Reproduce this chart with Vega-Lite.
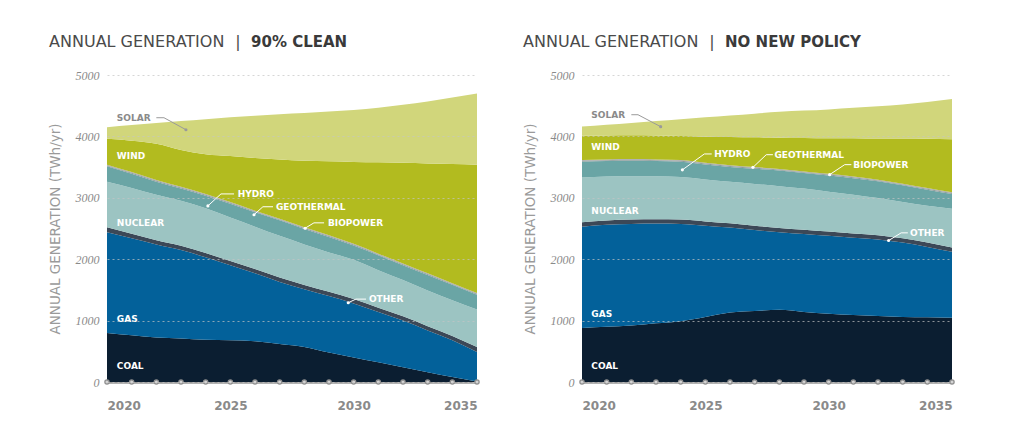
{
  "$schema": "https://vega.github.io/schema/vega-lite/v6.json",
  "background": "white",
  "padding": {"left": 48, "top": 34, "right": 10, "bottom": 5},
  "bounds": "flush",
  "spacing": 105,
  "config": {
    "font": "DejaVu Sans",
    "view": {"stroke": null}
  },
  "datasets": {
    "gen": [
      {"scenario":"clean","year":2020,"source":"Coal","twh":800},{"scenario":"clean","year":2020,"source":"Gas","twh":1640},{"scenario":"clean","year":2020,"source":"Other","twh":80},{"scenario":"clean","year":2020,"source":"Nuclear","twh":740},{"scenario":"clean","year":2020,"source":"Hydro","twh":253},{"scenario":"clean","year":2020,"source":"Geothermal","twh":15},{"scenario":"clean","year":2020,"source":"Biopower","twh":12},{"scenario":"clean","year":2020,"source":"Wind","twh":420},{"scenario":"clean","year":2020,"source":"Solar","twh":190},
      {"scenario":"clean","year":2021,"source":"Coal","twh":760},{"scenario":"clean","year":2021,"source":"Gas","twh":1580},{"scenario":"clean","year":2021,"source":"Other","twh":75},{"scenario":"clean","year":2021,"source":"Nuclear","twh":745},{"scenario":"clean","year":2021,"source":"Hydro","twh":233},{"scenario":"clean","year":2021,"source":"Geothermal","twh":15},{"scenario":"clean","year":2021,"source":"Biopower","twh":12},{"scenario":"clean","year":2021,"source":"Wind","twh":510},{"scenario":"clean","year":2021,"source":"Solar","twh":255},
      {"scenario":"clean","year":2022,"source":"Coal","twh":725},{"scenario":"clean","year":2022,"source":"Gas","twh":1515},{"scenario":"clean","year":2022,"source":"Other","twh":70},{"scenario":"clean","year":2022,"source":"Nuclear","twh":740},{"scenario":"clean","year":2022,"source":"Hydro","twh":213},{"scenario":"clean","year":2022,"source":"Geothermal","twh":15},{"scenario":"clean","year":2022,"source":"Biopower","twh":12},{"scenario":"clean","year":2022,"source":"Wind","twh":590},{"scenario":"clean","year":2022,"source":"Solar","twh":340},
      {"scenario":"clean","year":2023,"source":"Coal","twh":710},{"scenario":"clean","year":2023,"source":"Gas","twh":1440},{"scenario":"clean","year":2023,"source":"Other","twh":70},{"scenario":"clean","year":2023,"source":"Nuclear","twh":730},{"scenario":"clean","year":2023,"source":"Hydro","twh":203},{"scenario":"clean","year":2023,"source":"Geothermal","twh":15},{"scenario":"clean","year":2023,"source":"Biopower","twh":12},{"scenario":"clean","year":2023,"source":"Wind","twh":600},{"scenario":"clean","year":2023,"source":"Solar","twh":470},
      {"scenario":"clean","year":2024,"source":"Coal","twh":690},{"scenario":"clean","year":2024,"source":"Gas","twh":1340},{"scenario":"clean","year":2024,"source":"Other","twh":70},{"scenario":"clean","year":2024,"source":"Nuclear","twh":730},{"scenario":"clean","year":2024,"source":"Hydro","twh":203},{"scenario":"clean","year":2024,"source":"Geothermal","twh":15},{"scenario":"clean","year":2024,"source":"Biopower","twh":12},{"scenario":"clean","year":2024,"source":"Wind","twh":650},{"scenario":"clean","year":2024,"source":"Solar","twh":570},
      {"scenario":"clean","year":2025,"source":"Coal","twh":680},{"scenario":"clean","year":2025,"source":"Gas","twh":1220},{"scenario":"clean","year":2025,"source":"Other","twh":70},{"scenario":"clean","year":2025,"source":"Nuclear","twh":710},{"scenario":"clean","year":2025,"source":"Hydro","twh":223},{"scenario":"clean","year":2025,"source":"Geothermal","twh":15},{"scenario":"clean","year":2025,"source":"Biopower","twh":12},{"scenario":"clean","year":2025,"source":"Wind","twh":750},{"scenario":"clean","year":2025,"source":"Solar","twh":630},
      {"scenario":"clean","year":2026,"source":"Coal","twh":665},{"scenario":"clean","year":2026,"source":"Gas","twh":1105},{"scenario":"clean","year":2026,"source":"Other","twh":70},{"scenario":"clean","year":2026,"source":"Nuclear","twh":690},{"scenario":"clean","year":2026,"source":"Hydro","twh":233},{"scenario":"clean","year":2026,"source":"Geothermal","twh":15},{"scenario":"clean","year":2026,"source":"Biopower","twh":12},{"scenario":"clean","year":2026,"source":"Wind","twh":860},{"scenario":"clean","year":2026,"source":"Solar","twh":685},
      {"scenario":"clean","year":2027,"source":"Coal","twh":620},{"scenario":"clean","year":2027,"source":"Gas","twh":1010},{"scenario":"clean","year":2027,"source":"Other","twh":70},{"scenario":"clean","year":2027,"source":"Nuclear","twh":680},{"scenario":"clean","year":2027,"source":"Hydro","twh":253},{"scenario":"clean","year":2027,"source":"Geothermal","twh":15},{"scenario":"clean","year":2027,"source":"Biopower","twh":12},{"scenario":"clean","year":2027,"source":"Wind","twh":965},{"scenario":"clean","year":2027,"source":"Solar","twh":735},
      {"scenario":"clean","year":2028,"source":"Coal","twh":570},{"scenario":"clean","year":2028,"source":"Gas","twh":940},{"scenario":"clean","year":2028,"source":"Other","twh":70},{"scenario":"clean","year":2028,"source":"Nuclear","twh":660},{"scenario":"clean","year":2028,"source":"Hydro","twh":253},{"scenario":"clean","year":2028,"source":"Geothermal","twh":15},{"scenario":"clean","year":2028,"source":"Biopower","twh":12},{"scenario":"clean","year":2028,"source":"Wind","twh":1085},{"scenario":"clean","year":2028,"source":"Solar","twh":775},
      {"scenario":"clean","year":2029,"source":"Coal","twh":480},{"scenario":"clean","year":2029,"source":"Gas","twh":920},{"scenario":"clean","year":2029,"source":"Other","twh":70},{"scenario":"clean","year":2029,"source":"Nuclear","twh":640},{"scenario":"clean","year":2029,"source":"Hydro","twh":253},{"scenario":"clean","year":2029,"source":"Geothermal","twh":15},{"scenario":"clean","year":2029,"source":"Biopower","twh":12},{"scenario":"clean","year":2029,"source":"Wind","twh":1205},{"scenario":"clean","year":2029,"source":"Solar","twh":810},
      {"scenario":"clean","year":2030,"source":"Coal","twh":400},{"scenario":"clean","year":2030,"source":"Gas","twh":880},{"scenario":"clean","year":2030,"source":"Other","twh":70},{"scenario":"clean","year":2030,"source":"Nuclear","twh":640},{"scenario":"clean","year":2030,"source":"Hydro","twh":233},{"scenario":"clean","year":2030,"source":"Geothermal","twh":15},{"scenario":"clean","year":2030,"source":"Biopower","twh":12},{"scenario":"clean","year":2030,"source":"Wind","twh":1335},{"scenario":"clean","year":2030,"source":"Solar","twh":845},
      {"scenario":"clean","year":2031,"source":"Coal","twh":320},{"scenario":"clean","year":2031,"source":"Gas","twh":820},{"scenario":"clean","year":2031,"source":"Other","twh":70},{"scenario":"clean","year":2031,"source":"Nuclear","twh":610},{"scenario":"clean","year":2031,"source":"Hydro","twh":243},{"scenario":"clean","year":2031,"source":"Geothermal","twh":15},{"scenario":"clean","year":2031,"source":"Biopower","twh":12},{"scenario":"clean","year":2031,"source":"Wind","twh":1487},{"scenario":"clean","year":2031,"source":"Solar","twh":888},
      {"scenario":"clean","year":2032,"source":"Coal","twh":240},{"scenario":"clean","year":2032,"source":"Gas","twh":760},{"scenario":"clean","year":2032,"source":"Other","twh":70},{"scenario":"clean","year":2032,"source":"Nuclear","twh":590},{"scenario":"clean","year":2032,"source":"Hydro","twh":243},{"scenario":"clean","year":2032,"source":"Geothermal","twh":15},{"scenario":"clean","year":2032,"source":"Biopower","twh":12},{"scenario":"clean","year":2032,"source":"Wind","twh":1640},{"scenario":"clean","year":2032,"source":"Solar","twh":945},
      {"scenario":"clean","year":2033,"source":"Coal","twh":160},{"scenario":"clean","year":2033,"source":"Gas","twh":680},{"scenario":"clean","year":2033,"source":"Other","twh":70},{"scenario":"clean","year":2033,"source":"Nuclear","twh":580},{"scenario":"clean","year":2033,"source":"Hydro","twh":253},{"scenario":"clean","year":2033,"source":"Geothermal","twh":15},{"scenario":"clean","year":2033,"source":"Biopower","twh":12},{"scenario":"clean","year":2033,"source":"Wind","twh":1790},{"scenario":"clean","year":2033,"source":"Solar","twh":1010},
      {"scenario":"clean","year":2034,"source":"Coal","twh":80},{"scenario":"clean","year":2034,"source":"Gas","twh":600},{"scenario":"clean","year":2034,"source":"Other","twh":70},{"scenario":"clean","year":2034,"source":"Nuclear","twh":580},{"scenario":"clean","year":2034,"source":"Hydro","twh":253},{"scenario":"clean","year":2034,"source":"Geothermal","twh":15},{"scenario":"clean","year":2034,"source":"Biopower","twh":12},{"scenario":"clean","year":2034,"source":"Wind","twh":1940},{"scenario":"clean","year":2034,"source":"Solar","twh":1085},
      {"scenario":"clean","year":2035,"source":"Coal","twh":10},{"scenario":"clean","year":2035,"source":"Gas","twh":480},{"scenario":"clean","year":2035,"source":"Other","twh":80},{"scenario":"clean","year":2035,"source":"Nuclear","twh":610},{"scenario":"clean","year":2035,"source":"Hydro","twh":243},{"scenario":"clean","year":2035,"source":"Geothermal","twh":15},{"scenario":"clean","year":2035,"source":"Biopower","twh":12},{"scenario":"clean","year":2035,"source":"Wind","twh":2090},{"scenario":"clean","year":2035,"source":"Solar","twh":1160},

      {"scenario":"nonew","year":2020,"source":"Coal","twh":880},{"scenario":"nonew","year":2020,"source":"Gas","twh":1650},{"scenario":"nonew","year":2020,"source":"Other","twh":70},{"scenario":"nonew","year":2020,"source":"Nuclear","twh":730},{"scenario":"nonew","year":2020,"source":"Hydro","twh":258},{"scenario":"nonew","year":2020,"source":"Geothermal","twh":15},{"scenario":"nonew","year":2020,"source":"Biopower","twh":12},{"scenario":"nonew","year":2020,"source":"Wind","twh":395},{"scenario":"nonew","year":2020,"source":"Solar","twh":150},
      {"scenario":"nonew","year":2021,"source":"Coal","twh":900},{"scenario":"nonew","year":2021,"source":"Gas","twh":1660},{"scenario":"nonew","year":2021,"source":"Other","twh":70},{"scenario":"nonew","year":2021,"source":"Nuclear","twh":715},{"scenario":"nonew","year":2021,"source":"Hydro","twh":253},{"scenario":"nonew","year":2021,"source":"Geothermal","twh":15},{"scenario":"nonew","year":2021,"source":"Biopower","twh":12},{"scenario":"nonew","year":2021,"source":"Wind","twh":390},{"scenario":"nonew","year":2021,"source":"Solar","twh":175},
      {"scenario":"nonew","year":2022,"source":"Coal","twh":920},{"scenario":"nonew","year":2022,"source":"Gas","twh":1655},{"scenario":"nonew","year":2022,"source":"Other","twh":70},{"scenario":"nonew","year":2022,"source":"Nuclear","twh":705},{"scenario":"nonew","year":2022,"source":"Hydro","twh":253},{"scenario":"nonew","year":2022,"source":"Geothermal","twh":15},{"scenario":"nonew","year":2022,"source":"Biopower","twh":12},{"scenario":"nonew","year":2022,"source":"Wind","twh":390},{"scenario":"nonew","year":2022,"source":"Solar","twh":200},
      {"scenario":"nonew","year":2023,"source":"Coal","twh":955},{"scenario":"nonew","year":2023,"source":"Gas","twh":1625},{"scenario":"nonew","year":2023,"source":"Other","twh":70},{"scenario":"nonew","year":2023,"source":"Nuclear","twh":700},{"scenario":"nonew","year":2023,"source":"Hydro","twh":248},{"scenario":"nonew","year":2023,"source":"Geothermal","twh":15},{"scenario":"nonew","year":2023,"source":"Biopower","twh":12},{"scenario":"nonew","year":2023,"source":"Wind","twh":390},{"scenario":"nonew","year":2023,"source":"Solar","twh":235},
      {"scenario":"nonew","year":2024,"source":"Coal","twh":990},{"scenario":"nonew","year":2024,"source":"Gas","twh":1585},{"scenario":"nonew","year":2024,"source":"Other","twh":70},{"scenario":"nonew","year":2024,"source":"Nuclear","twh":695},{"scenario":"nonew","year":2024,"source":"Hydro","twh":248},{"scenario":"nonew","year":2024,"source":"Geothermal","twh":15},{"scenario":"nonew","year":2024,"source":"Biopower","twh":12},{"scenario":"nonew","year":2024,"source":"Wind","twh":390},{"scenario":"nonew","year":2024,"source":"Solar","twh":275},
      {"scenario":"nonew","year":2025,"source":"Coal","twh":1060},{"scenario":"nonew","year":2025,"source":"Gas","twh":1485},{"scenario":"nonew","year":2025,"source":"Other","twh":70},{"scenario":"nonew","year":2025,"source":"Nuclear","twh":685},{"scenario":"nonew","year":2025,"source":"Hydro","twh":243},{"scenario":"nonew","year":2025,"source":"Geothermal","twh":15},{"scenario":"nonew","year":2025,"source":"Biopower","twh":12},{"scenario":"nonew","year":2025,"source":"Wind","twh":425},{"scenario":"nonew","year":2025,"source":"Solar","twh":315},
      {"scenario":"nonew","year":2026,"source":"Coal","twh":1130},{"scenario":"nonew","year":2026,"source":"Gas","twh":1385},{"scenario":"nonew","year":2026,"source":"Other","twh":70},{"scenario":"nonew","year":2026,"source":"Nuclear","twh":675},{"scenario":"nonew","year":2026,"source":"Hydro","twh":243},{"scenario":"nonew","year":2026,"source":"Geothermal","twh":15},{"scenario":"nonew","year":2026,"source":"Biopower","twh":12},{"scenario":"nonew","year":2026,"source":"Wind","twh":460},{"scenario":"nonew","year":2026,"source":"Solar","twh":350},
      {"scenario":"nonew","year":2027,"source":"Coal","twh":1155},{"scenario":"nonew","year":2027,"source":"Gas","twh":1320},{"scenario":"nonew","year":2027,"source":"Other","twh":70},{"scenario":"nonew","year":2027,"source":"Nuclear","twh":680},{"scenario":"nonew","year":2027,"source":"Hydro","twh":248},{"scenario":"nonew","year":2027,"source":"Geothermal","twh":15},{"scenario":"nonew","year":2027,"source":"Biopower","twh":12},{"scenario":"nonew","year":2027,"source":"Wind","twh":485},{"scenario":"nonew","year":2027,"source":"Solar","twh":385},
      {"scenario":"nonew","year":2028,"source":"Coal","twh":1175},{"scenario":"nonew","year":2028,"source":"Gas","twh":1265},{"scenario":"nonew","year":2028,"source":"Other","twh":70},{"scenario":"nonew","year":2028,"source":"Nuclear","twh":680},{"scenario":"nonew","year":2028,"source":"Hydro","twh":253},{"scenario":"nonew","year":2028,"source":"Geothermal","twh":15},{"scenario":"nonew","year":2028,"source":"Biopower","twh":12},{"scenario":"nonew","year":2028,"source":"Wind","twh":510},{"scenario":"nonew","year":2028,"source":"Solar","twh":420},
      {"scenario":"nonew","year":2029,"source":"Coal","twh":1140},{"scenario":"nonew","year":2029,"source":"Gas","twh":1270},{"scenario":"nonew","year":2029,"source":"Other","twh":70},{"scenario":"nonew","year":2029,"source":"Nuclear","twh":670},{"scenario":"nonew","year":2029,"source":"Hydro","twh":253},{"scenario":"nonew","year":2029,"source":"Geothermal","twh":15},{"scenario":"nonew","year":2029,"source":"Biopower","twh":12},{"scenario":"nonew","year":2029,"source":"Wind","twh":545},{"scenario":"nonew","year":2029,"source":"Solar","twh":445},
      {"scenario":"nonew","year":2030,"source":"Coal","twh":1110},{"scenario":"nonew","year":2030,"source":"Gas","twh":1270},{"scenario":"nonew","year":2030,"source":"Other","twh":70},{"scenario":"nonew","year":2030,"source":"Nuclear","twh":650},{"scenario":"nonew","year":2030,"source":"Hydro","twh":263},{"scenario":"nonew","year":2030,"source":"Geothermal","twh":15},{"scenario":"nonew","year":2030,"source":"Biopower","twh":12},{"scenario":"nonew","year":2030,"source":"Wind","twh":580},{"scenario":"nonew","year":2030,"source":"Solar","twh":470},
      {"scenario":"nonew","year":2031,"source":"Coal","twh":1090},{"scenario":"nonew","year":2031,"source":"Gas","twh":1260},{"scenario":"nonew","year":2031,"source":"Other","twh":70},{"scenario":"nonew","year":2031,"source":"Nuclear","twh":630},{"scenario":"nonew","year":2031,"source":"Hydro","twh":268},{"scenario":"nonew","year":2031,"source":"Geothermal","twh":15},{"scenario":"nonew","year":2031,"source":"Biopower","twh":12},{"scenario":"nonew","year":2031,"source":"Wind","twh":625},{"scenario":"nonew","year":2031,"source":"Solar","twh":495},
      {"scenario":"nonew","year":2032,"source":"Coal","twh":1075},{"scenario":"nonew","year":2032,"source":"Gas","twh":1245},{"scenario":"nonew","year":2032,"source":"Other","twh":70},{"scenario":"nonew","year":2032,"source":"Nuclear","twh":605},{"scenario":"nonew","year":2032,"source":"Hydro","twh":273},{"scenario":"nonew","year":2032,"source":"Geothermal","twh":15},{"scenario":"nonew","year":2032,"source":"Biopower","twh":12},{"scenario":"nonew","year":2032,"source":"Wind","twh":670},{"scenario":"nonew","year":2032,"source":"Solar","twh":525},
      {"scenario":"nonew","year":2033,"source":"Coal","twh":1060},{"scenario":"nonew","year":2033,"source":"Gas","twh":1210},{"scenario":"nonew","year":2033,"source":"Other","twh":70},{"scenario":"nonew","year":2033,"source":"Nuclear","twh":590},{"scenario":"nonew","year":2033,"source":"Hydro","twh":273},{"scenario":"nonew","year":2033,"source":"Geothermal","twh":15},{"scenario":"nonew","year":2033,"source":"Biopower","twh":12},{"scenario":"nonew","year":2033,"source":"Wind","twh":735},{"scenario":"nonew","year":2033,"source":"Solar","twh":555},
      {"scenario":"nonew","year":2034,"source":"Coal","twh":1055},{"scenario":"nonew","year":2034,"source":"Gas","twh":1145},{"scenario":"nonew","year":2034,"source":"Other","twh":70},{"scenario":"nonew","year":2034,"source":"Nuclear","twh":600},{"scenario":"nonew","year":2034,"source":"Hydro","twh":263},{"scenario":"nonew","year":2034,"source":"Geothermal","twh":15},{"scenario":"nonew","year":2034,"source":"Biopower","twh":12},{"scenario":"nonew","year":2034,"source":"Wind","twh":800},{"scenario":"nonew","year":2034,"source":"Solar","twh":600},
      {"scenario":"nonew","year":2035,"source":"Coal","twh":1045},{"scenario":"nonew","year":2035,"source":"Gas","twh":1075},{"scenario":"nonew","year":2035,"source":"Other","twh":70},{"scenario":"nonew","year":2035,"source":"Nuclear","twh":630},{"scenario":"nonew","year":2035,"source":"Hydro","twh":243},{"scenario":"nonew","year":2035,"source":"Geothermal","twh":15},{"scenario":"nonew","year":2035,"source":"Biopower","twh":12},{"scenario":"nonew","year":2035,"source":"Wind","twh":865},{"scenario":"nonew","year":2035,"source":"Solar","twh":655}
    ],
    "labels": [
      {"scenario":"clean","label":"SOLAR","year":2020.4,"twh":4304},
      {"scenario":"clean","label":"WIND","year":2020.4,"twh":3686},
      {"scenario":"clean","label":"NUCLEAR","year":2020.4,"twh":2592},
      {"scenario":"clean","label":"GAS","year":2020.4,"twh":1020},
      {"scenario":"clean","label":"COAL","year":2020.4,"twh":260},
      {"scenario":"clean","label":"HYDRO","year":2025.3,"twh":3063},
      {"scenario":"clean","label":"GEOTHERMAL","year":2026.85,"twh":2854},
      {"scenario":"clean","label":"BIOPOWER","year":2028.96,"twh":2592},
      {"scenario":"clean","label":"OTHER","year":2030.62,"twh":1350},
      {"scenario":"nonew","label":"SOLAR","year":2020.38,"twh":4353},
      {"scenario":"nonew","label":"WIND","year":2020.38,"twh":3821},
      {"scenario":"nonew","label":"NUCLEAR","year":2020.38,"twh":2780},
      {"scenario":"nonew","label":"GAS","year":2020.38,"twh":1112},
      {"scenario":"nonew","label":"COAL","year":2020.38,"twh":260},
      {"scenario":"nonew","label":"HYDRO","year":2025.36,"twh":3714},
      {"scenario":"nonew","label":"GEOTHERMAL","year":2027.8,"twh":3702},
      {"scenario":"nonew","label":"BIOPOWER","year":2031.0,"twh":3540},
      {"scenario":"nonew","label":"OTHER","year":2033.3,"twh":2429}
    ],
    "leaders": [
      {"scenario":"clean","label":"SOLAR","step":0,"year":2022.0,"twh":4304},
      {"scenario":"clean","label":"SOLAR","step":1,"year":2022.31,"twh":4304},
      {"scenario":"clean","label":"SOLAR","step":2,"year":2023.2,"twh":4109},
      {"scenario":"clean","label":"HYDRO","step":0,"year":2025.15,"twh":3063},
      {"scenario":"clean","label":"HYDRO","step":1,"year":2024.62,"twh":3063},
      {"scenario":"clean","label":"HYDRO","step":2,"year":2024.09,"twh":2868},
      {"scenario":"clean","label":"GEOTHERMAL","step":0,"year":2026.73,"twh":2854},
      {"scenario":"clean","label":"GEOTHERMAL","step":1,"year":2026.32,"twh":2854},
      {"scenario":"clean","label":"GEOTHERMAL","step":2,"year":2025.96,"twh":2724},
      {"scenario":"clean","label":"BIOPOWER","step":0,"year":2028.8,"twh":2592},
      {"scenario":"clean","label":"BIOPOWER","step":1,"year":2028.39,"twh":2592},
      {"scenario":"clean","label":"BIOPOWER","step":2,"year":2028.03,"twh":2504},
      {"scenario":"clean","label":"OTHER","step":0,"year":2030.5,"twh":1350},
      {"scenario":"clean","label":"OTHER","step":1,"year":2030.09,"twh":1350},
      {"scenario":"clean","label":"OTHER","step":2,"year":2029.78,"twh":1291},
      {"scenario":"nonew","label":"SOLAR","step":0,"year":2022.0,"twh":4353},
      {"scenario":"nonew","label":"SOLAR","step":1,"year":2022.27,"twh":4353},
      {"scenario":"nonew","label":"SOLAR","step":2,"year":2023.19,"twh":4158},
      {"scenario":"nonew","label":"HYDRO","step":0,"year":2025.26,"twh":3714},
      {"scenario":"nonew","label":"HYDRO","step":1,"year":2024.96,"twh":3714},
      {"scenario":"nonew","label":"HYDRO","step":2,"year":2024.07,"twh":3455},
      {"scenario":"nonew","label":"GEOTHERMAL","step":0,"year":2027.74,"twh":3702},
      {"scenario":"nonew","label":"GEOTHERMAL","step":1,"year":2027.47,"twh":3702},
      {"scenario":"nonew","label":"GEOTHERMAL","step":2,"year":2026.93,"twh":3496},
      {"scenario":"nonew","label":"BIOPOWER","step":0,"year":2030.92,"twh":3540},
      {"scenario":"nonew","label":"BIOPOWER","step":1,"year":2030.65,"twh":3540},
      {"scenario":"nonew","label":"BIOPOWER","step":2,"year":2030.04,"twh":3377},
      {"scenario":"nonew","label":"OTHER","step":0,"year":2033.21,"twh":2429},
      {"scenario":"nonew","label":"OTHER","step":1,"year":2032.94,"twh":2429},
      {"scenario":"nonew","label":"OTHER","step":2,"year":2032.43,"twh":2304}
    ]
  },
  "hconcat": [
    {
      "width": 370,
      "height": 307,
      "layer": [
        {
          "data": {"name": "gen"},
          "transform": [
            {"filter": "datum.scenario == 'clean'"},
            {"calculate": "indexof(['Coal','Gas','Other','Nuclear','Hydro','Geothermal','Biopower','Wind','Solar'], datum.source)", "as": "rank"}
          ],
          "mark": {"type": "area", "interpolate": "monotone"},
          "encoding": {
            "x": {"field": "year", "type": "quantitative", "scale": {"domain": [2020, 2035], "nice": false, "zero": false},
                  "axis": {"title": null, "values": [2020, 2025, 2030, 2035], "format": "d", "ticks": false, "grid": false, "domainColor": "#9a9a9a", "domainWidth": 2.5, "labelFont": "DejaVu Sans", "labelFontWeight": "bold", "labelFontSize": 12, "labelColor": "#8a8a8a", "labelPadding": 18, "zindex": 0}},
            "y": {"field": "twh", "type": "quantitative", "stack": "zero", "scale": {"domain": [0, 5000], "nice": false},
                  "axis": {"title": "ANNUAL GENERATION (TWh/yr)", "titleFont": "DejaVu Sans", "titleFontWeight": "normal", "titleFontSize": 13.5, "titleColor": "#9a9a9a", "titlePadding": 13, "values": [0, 1000, 2000, 3000, 4000, 5000], "format": "d", "ticks": false, "domain": false, "labelFont": "Liberation Serif", "labelFontStyle": "italic", "labelFontSize": 12, "labelColor": "#8a8a8a", "labelPadding": 8, "gridColor": "#c4c4c4", "gridDash": [2, 3], "gridOpacity": 0.7, "zindex": 1}},
            "color": {"field": "source", "type": "nominal", "legend": null,
                      "scale": {"domain": ["Coal","Gas","Other","Nuclear","Hydro","Geothermal","Biopower","Wind","Solar"],
                                "range": ["#0b1e31","#03619a","#3c4857","#9cc4c2","#6aa5a5","#8d9c9c","#a3a3a3","#b2bb1f","#d1d67b"]}},
            "order": {"field": "rank", "type": "quantitative"}
          }
        },
        {
          "data": {"name": "gen"},
          "transform": [{"filter": "datum.scenario == 'clean' && datum.source == 'Coal'"}],
          "mark": {"type": "point", "filled": true, "fill": "#d4d4d4", "stroke": "#8f8f8f", "strokeWidth": 1.3, "size": 18, "opacity": 1},
          "encoding": {"x": {"field": "year", "type": "quantitative"}, "y": {"datum": 0}}
        },
        {
          "data": {"name": "leaders"},
          "transform": [{"filter": "datum.scenario == 'clean'"}],
          "mark": {"type": "line", "strokeWidth": 1},
          "encoding": {
            "x": {"field": "year", "type": "quantitative"},
            "y": {"field": "twh", "type": "quantitative", "stack": null},
            "detail": {"field": "label"},
            "order": {"field": "step", "type": "quantitative"},
            "color": {"condition": {"test": "datum.label == 'SOLAR'", "value": "#9a9a9a"}, "value": "#ffffff"}
          }
        },
        {
          "data": {"name": "leaders"},
          "transform": [{"filter": "datum.scenario == 'clean' && datum.step == 2"}],
          "mark": {"type": "point", "filled": true, "size": 10, "opacity": 1},
          "encoding": {
            "x": {"field": "year", "type": "quantitative"},
            "y": {"field": "twh", "type": "quantitative", "stack": null},
            "color": {"condition": {"test": "datum.label == 'SOLAR'", "value": "#9a9a9a"}, "value": "#ffffff"}
          }
        },
        {
          "data": {"name": "labels"},
          "transform": [{"filter": "datum.scenario == 'clean'"}],
          "mark": {"type": "text", "align": "left", "baseline": "middle", "font": "DejaVu Sans", "fontWeight": "bold", "fontSize": 9},
          "encoding": {
            "x": {"field": "year", "type": "quantitative"},
            "y": {"field": "twh", "type": "quantitative", "stack": null},
            "text": {"field": "label"},
            "color": {"condition": {"test": "datum.label == 'SOLAR'", "value": "#8a8a8a"}, "value": "#ffffff"}
          }
        },
        {
          "data": {"values": [{}]},
          "mark": {"type": "text", "align": "left", "baseline": "middle", "font": "DejaVu Sans", "fontSize": 16, "color": "#4a4a4a"},
          "encoding": {"x": {"datum": 2017.65}, "y": {"datum": 5537}, "text": {"value": "ANNUAL GENERATION"}}
        },
        {
          "data": {"values": [{}]},
          "mark": {"type": "text", "align": "center", "baseline": "middle", "font": "DejaVu Sans", "fontSize": 16, "color": "#4a4a4a"},
          "encoding": {"x": {"datum": 2025.31}, "y": {"datum": 5537}, "text": {"value": "|"}}
        },
        {
          "data": {"values": [{}]},
          "mark": {"type": "text", "align": "left", "baseline": "middle", "font": "DejaVu Sans", "fontWeight": "bold", "fontSize": 15, "color": "#3a3a3a"},
          "encoding": {"x": {"datum": 2025.84}, "y": {"datum": 5537}, "text": {"value": "90% CLEAN"}}
        }
      ]
    },
    {
      "width": 370,
      "height": 307,
      "layer": [
        {
          "data": {"name": "gen"},
          "transform": [
            {"filter": "datum.scenario == 'nonew'"},
            {"calculate": "indexof(['Coal','Gas','Other','Nuclear','Hydro','Geothermal','Biopower','Wind','Solar'], datum.source)", "as": "rank"}
          ],
          "mark": {"type": "area", "interpolate": "monotone"},
          "encoding": {
            "x": {"field": "year", "type": "quantitative", "scale": {"domain": [2020, 2035], "nice": false, "zero": false},
                  "axis": {"title": null, "values": [2020, 2025, 2030, 2035], "format": "d", "ticks": false, "grid": false, "domainColor": "#9a9a9a", "domainWidth": 2.5, "labelFont": "DejaVu Sans", "labelFontWeight": "bold", "labelFontSize": 12, "labelColor": "#8a8a8a", "labelPadding": 18, "zindex": 0}},
            "y": {"field": "twh", "type": "quantitative", "stack": "zero", "scale": {"domain": [0, 5000], "nice": false},
                  "axis": {"title": "ANNUAL GENERATION (TWh/yr)", "titleFont": "DejaVu Sans", "titleFontWeight": "normal", "titleFontSize": 13.5, "titleColor": "#9a9a9a", "titlePadding": 13, "values": [0, 1000, 2000, 3000, 4000, 5000], "format": "d", "ticks": false, "domain": false, "labelFont": "Liberation Serif", "labelFontStyle": "italic", "labelFontSize": 12, "labelColor": "#8a8a8a", "labelPadding": 8, "gridColor": "#c4c4c4", "gridDash": [2, 3], "gridOpacity": 0.7, "zindex": 1}},
            "color": {"field": "source", "type": "nominal", "legend": null,
                      "scale": {"domain": ["Coal","Gas","Other","Nuclear","Hydro","Geothermal","Biopower","Wind","Solar"],
                                "range": ["#0b1e31","#03619a","#3c4857","#9cc4c2","#6aa5a5","#8d9c9c","#a3a3a3","#b2bb1f","#d1d67b"]}},
            "order": {"field": "rank", "type": "quantitative"}
          }
        },
        {
          "data": {"name": "gen"},
          "transform": [{"filter": "datum.scenario == 'nonew' && datum.source == 'Coal'"}],
          "mark": {"type": "point", "filled": true, "fill": "#d4d4d4", "stroke": "#8f8f8f", "strokeWidth": 1.3, "size": 18, "opacity": 1},
          "encoding": {"x": {"field": "year", "type": "quantitative"}, "y": {"datum": 0}}
        },
        {
          "data": {"name": "leaders"},
          "transform": [{"filter": "datum.scenario == 'nonew'"}],
          "mark": {"type": "line", "strokeWidth": 1},
          "encoding": {
            "x": {"field": "year", "type": "quantitative"},
            "y": {"field": "twh", "type": "quantitative", "stack": null},
            "detail": {"field": "label"},
            "order": {"field": "step", "type": "quantitative"},
            "color": {"condition": {"test": "datum.label == 'SOLAR'", "value": "#9a9a9a"}, "value": "#ffffff"}
          }
        },
        {
          "data": {"name": "leaders"},
          "transform": [{"filter": "datum.scenario == 'nonew' && datum.step == 2"}],
          "mark": {"type": "point", "filled": true, "size": 10, "opacity": 1},
          "encoding": {
            "x": {"field": "year", "type": "quantitative"},
            "y": {"field": "twh", "type": "quantitative", "stack": null},
            "color": {"condition": {"test": "datum.label == 'SOLAR'", "value": "#9a9a9a"}, "value": "#ffffff"}
          }
        },
        {
          "data": {"name": "labels"},
          "transform": [{"filter": "datum.scenario == 'nonew'"}],
          "mark": {"type": "text", "align": "left", "baseline": "middle", "font": "DejaVu Sans", "fontWeight": "bold", "fontSize": 9},
          "encoding": {
            "x": {"field": "year", "type": "quantitative"},
            "y": {"field": "twh", "type": "quantitative", "stack": null},
            "text": {"field": "label"},
            "color": {"condition": {"test": "datum.label == 'SOLAR'", "value": "#8a8a8a"}, "value": "#ffffff"}
          }
        },
        {
          "data": {"values": [{}]},
          "mark": {"type": "text", "align": "left", "baseline": "middle", "font": "DejaVu Sans", "fontSize": 16, "color": "#4a4a4a"},
          "encoding": {"x": {"datum": 2017.61}, "y": {"datum": 5537}, "text": {"value": "ANNUAL GENERATION"}}
        },
        {
          "data": {"values": [{}]},
          "mark": {"type": "text", "align": "center", "baseline": "middle", "font": "DejaVu Sans", "fontSize": 16, "color": "#4a4a4a"},
          "encoding": {"x": {"datum": 2025.27}, "y": {"datum": 5537}, "text": {"value": "|"}}
        },
        {
          "data": {"values": [{}]},
          "mark": {"type": "text", "align": "left", "baseline": "middle", "font": "DejaVu Sans", "fontWeight": "bold", "fontSize": 15, "color": "#3a3a3a"},
          "encoding": {"x": {"datum": 2025.8}, "y": {"datum": 5537}, "text": {"value": "NO NEW POLICY"}}
        }
      ]
    }
  ]
}
